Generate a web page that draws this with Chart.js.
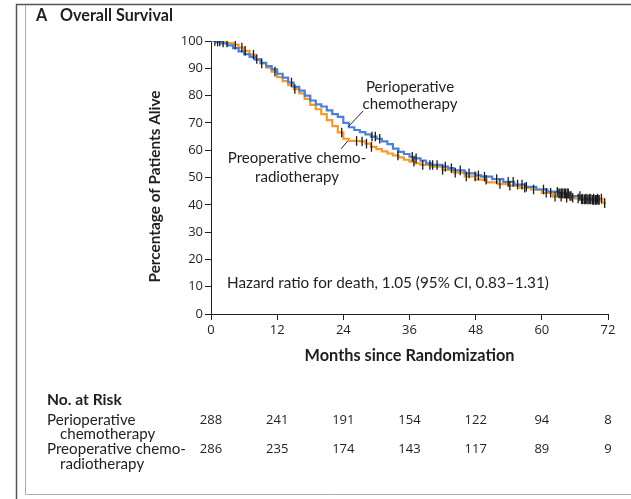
<!DOCTYPE html>
<html><head><meta charset="utf-8">
<script src="https://cdn.jsdelivr.net/npm/chart.js@4.4.1/dist/chart.umd.min.js"></script>
<style>html,body{margin:0;padding:0;background:#fff;}#wrap{width:631px;height:499px;}</style>
</head><body><div id="wrap"><canvas id="c" width="631" height="499" style="width:631px;height:499px"></canvas></div>
<script>
// ---- Data ----
const periMonths = [0,1,2,3,4,5,6,7,8,9,10,11,12,13,14,15,16,17,18,19,20,21,22,23,24,25,26,27,28,29,30,31,32,33,34,35,36,37,38,39,40,42,43,44,46,48,49,51,53,55,57,59,61,63,65,67,69,70.6];
const periSurv = [100,99.6,99.1,98.4,97.4,96.2,95.2,94.2,93.2,92,90.8,89.6,88,86.6,84.8,83.2,81.8,80,78.2,76.8,76,74.6,73.2,72.2,70,68.4,67.4,66.6,65.8,65,64.2,63.2,62.2,60.6,59.4,58.6,57.6,57,56.2,55.2,54.6,54,53.4,52.6,51.5,50.8,50.3,49.4,48.4,47.4,46.6,45.6,44.8,44.2,43.2,42.0,41.8,41.8];
const preMonths = [0,1,2,3,4,5,6,7,8,9,10,11,12,13,14,15,16,17,18,19,20,21,22,23,24,25,27,28,29,30,31,32,33,34,35,36,37,38,40,42,44,46,48,50,52,54,56,58,60,62,64,66,71,71.6];
const preSurv = [100,99.8,99.5,99.2,98.7,97.6,96.4,95,93.4,91.8,90.2,88.8,86.8,85.3,83.8,82.4,80.8,78.8,76.6,75,73.2,71,68.8,66.5,64.2,63.4,63.2,62.4,61.2,60.4,59.6,58.8,58.1,57.4,56.5,55.8,55.2,54.6,54,52.8,51.8,50.4,49.2,48.2,47.6,47,46.3,45.6,44.4,43,42.6,42.3,40.6,40.6];
const periCensor = [14.6,29.2,29.8,30.6,36.5,37.2,40.2,41.0,42.5,43.6,45.2,46.8,48.5,49.6,51.8,53.9,54.8,55.6,56.4,57.2,60.3,62.8,63.1,63.3,63.6,63.8,64.1,64.3,64.6,64.8,65.1,65.3,66.9,67.2,67.4,67.7,67.9,68.2,68.4,68.7,68.9,69.2,69.4,69.7,69.9,70.2,70.4];
const preCensor = [0.7,1.2,1.6,2.2,2.9,4.4,5.6,6.2,7.7,8.3,9.2,11.6,15.2,23.7,26.4,27.4,28.2,29.1,33.9,36.8,38.4,39.7,42.0,44.3,46.3,47.9,49.9,52.4,54.2,56.9,58.5,60.8,61.6,62.4,63.5,64.5,65.6,66.6,67.3,68.0,68.7,69.4,70.1,70.8,71.4];
const xTicks = [0,12,24,36,48,60,72];
const yTicks = [0,10,20,30,40,50,60,70,80,90,100];
const riskMonths = [0,12,24,36,48,60,72];
const riskPeri = [288,241,191,154,122,94,8];
const riskPre = [286,235,174,143,117,89,9];
const seriesNames = ["Perioperative chemotherapy","Preoperative chemoradiotherapy"];

const FONT = 'Lato, "Open Sans", "DejaVu Sans", sans-serif';
const NUMFONT = '"Open Sans", "Noto Sans", "DejaVu Sans", sans-serif';
const BLUE = '#4d80d2';
const ORANGE = '#f29b2c';
const INK = '#1f1f1f';

function toXY(ms, vs){ return ms.map((m,i)=>({x:m,y:vs[i]})); }
function stepAt(ms, vs, t){ let v = vs[0]; for(let i=0;i<ms.length;i++){ if(ms[i]<=t) v=vs[i]; } return v; }
function censorPts(cs, ms, vs){ return cs.map(t=>({x:t,y:stepAt(ms,vs,t)})); }

function fitSize(ctx, text, width, weight){
  ctx.font = weight + ' 20px ' + FONT;
  return 20 * width / ctx.measureText(text).width;
}
function txt(ctx, text, x, y, size, weight, align, fam){
  ctx.font = weight + ' ' + size.toFixed(2) + 'px ' + (fam || FONT);
  ctx.textAlign = align || 'left';
  ctx.textBaseline = 'middle';
  ctx.fillText(text, x, y);
}

const decor = {
  id: 'decor',
  afterDraw(chart){
    const ctx = chart.ctx, xs = chart.scales.x, ys = chart.scales.y;
    const px = m => xs.getPixelForValue(m), py = v => ys.getPixelForValue(v);
    ctx.save();
    // frame
    ctx.strokeStyle = '#555'; ctx.lineWidth = 1.5;
    ctx.beginPath(); ctx.moveTo(16.5, 499); ctx.lineTo(16.5, 4.5); ctx.lineTo(631, 4.5); ctx.stroke();
    ctx.strokeStyle = '#aaa'; ctx.lineWidth = 1;
    ctx.beginPath(); ctx.moveTo(25.5, 5); ctx.lineTo(25.5, 494.5); ctx.lineTo(631, 494.5); ctx.stroke();
    ctx.fillStyle = INK;
    // panel title
    const ts = fitSize(ctx, 'Overall Survival', 113, 'bold');
    txt(ctx, 'A', 36, 16, ts, 'bold');
    txt(ctx, 'Overall Survival', 60, 16, ts, 'bold');
    // axis titles
    const xt = 'Months since Randomization';
    txt(ctx, xt, (xs.left+xs.right)/2, 356, fitSize(ctx, xt, 210, 'bold'), 'bold', 'center');
    const yt = 'Percentage of Patients Alive';
    ctx.save(); ctx.translate(155, (ys.top+ys.bottom)/2 + 9); ctx.rotate(-Math.PI/2);
    txt(ctx, yt, 0, 0, fitSize(ctx, yt, 192, 'bold'), 'bold', 'center'); ctx.restore();
    // series labels
    const ls = fitSize(ctx, 'chemotherapy', 95, 'normal');
    txt(ctx, 'Perioperative', px(36.1), py(83.2), ls, 'normal', 'center');
    txt(ctx, 'chemotherapy', px(36.1), py(76.9), ls, 'normal', 'center');
    txt(ctx, 'Preoperative chemo-', px(15.6), py(57.1), ls, 'normal', 'center');
    txt(ctx, 'radiotherapy', px(15.6), py(50.2), ls, 'normal', 'center');
    ctx.strokeStyle = INK; ctx.lineWidth = 1;
    ctx.beginPath(); ctx.moveTo(px(27.6), py(74.4)); ctx.lineTo(px(24.9), py(68.6)); ctx.stroke();
    ctx.beginPath(); ctx.moveTo(px(23.6), py(60.5)); ctx.lineTo(px(24.8), py(63.4)); ctx.stroke();
    // hazard ratio
    const hr = 'Hazard ratio for death, 1.05 (95% CI, 0.83\u20131.31)';
    txt(ctx, hr, px(2.9), py(11.4), fitSize(ctx, hr, 322, 'normal'), 'normal', 'left');
    // risk table
    const rs = fitSize(ctx, 'Preoperative chemo-', 139, 'normal');
    txt(ctx, 'No. at Risk', 47, 400, rs + 0.5, 'bold', 'left');
    txt(ctx, 'Perioperative', 47, 420, rs, 'normal', 'left');
    txt(ctx, 'chemotherapy', 60, 434.5, rs, 'normal', 'left');
    txt(ctx, 'Preoperative chemo-', 47, 449.5, rs, 'normal', 'left');
    txt(ctx, 'radiotherapy', 60, 464.5, rs, 'normal', 'left');
    riskMonths.forEach((m,i)=>{
      txt(ctx, String(riskPeri[i]), px(m), 420, 13, 'normal', 'center', NUMFONT);
      txt(ctx, String(riskPre[i]), px(m), 449.5, 13, 'normal', 'center', NUMFONT);
    });
    ctx.restore();
  }
};

new Chart(document.getElementById('c'), {
  type: 'line',
  data: {
    datasets: [
      { label: 'censor1', type: 'scatter', data: censorPts(periCensor, periMonths, periSurv), pointStyle: 'line', rotation: 90, radius: 4.8, borderColor: '#1a1a1a', borderWidth: 1.3, backgroundColor: '#1a1a1a' },
      { label: 'censor2', type: 'scatter', data: censorPts(preCensor, preMonths, preSurv), pointStyle: 'line', rotation: 90, radius: 4.8, borderColor: '#1a1a1a', borderWidth: 1.3, backgroundColor: '#1a1a1a' },
      { label: seriesNames[0], data: toXY(periMonths, periSurv), borderColor: BLUE, borderWidth: 2.2, stepped: true, pointRadius: 0, fill: false },
      { label: seriesNames[1], data: toXY(preMonths, preSurv), borderColor: ORANGE, borderWidth: 2.2, stepped: true, pointRadius: 0, fill: false }
    ]
  },
  options: {
    responsive: false, animation: false, devicePixelRatio: 1,
    layout: { padding: { left: 151, right: 23, top: 41, bottom: 165 } },
    plugins: { legend: { display: false }, tooltip: { enabled: false } },
    scales: {
      x: {
        type: 'linear', min: 0, max: 72,
        afterFit: s => { s.height = 20; },
        afterBuildTicks: s => { s.ticks = xTicks.map(v=>({value:v})); },
        grid: { drawOnChartArea: false, drawTicks: true, tickLength: 6, color: INK, tickColor: INK },
        border: { display: true, color: INK, width: 1 },
        ticks: { padding: 2, color: INK, font: { family: NUMFONT, size: 13 }, maxRotation: 0 }
      },
      y: {
        min: 0, max: 100,
        afterFit: s => { s.width = 60; },
        afterBuildTicks: s => { s.ticks = yTicks.map(v=>({value:v})); },
        grid: { drawOnChartArea: false, drawTicks: true, tickLength: 6, color: INK, tickColor: INK },
        border: { display: true, color: INK, width: 1 },
        ticks: { padding: 2, color: INK, font: { family: NUMFONT, size: 13 } }
      }
    }
  },
  plugins: [decor]
});
</script></body></html>
